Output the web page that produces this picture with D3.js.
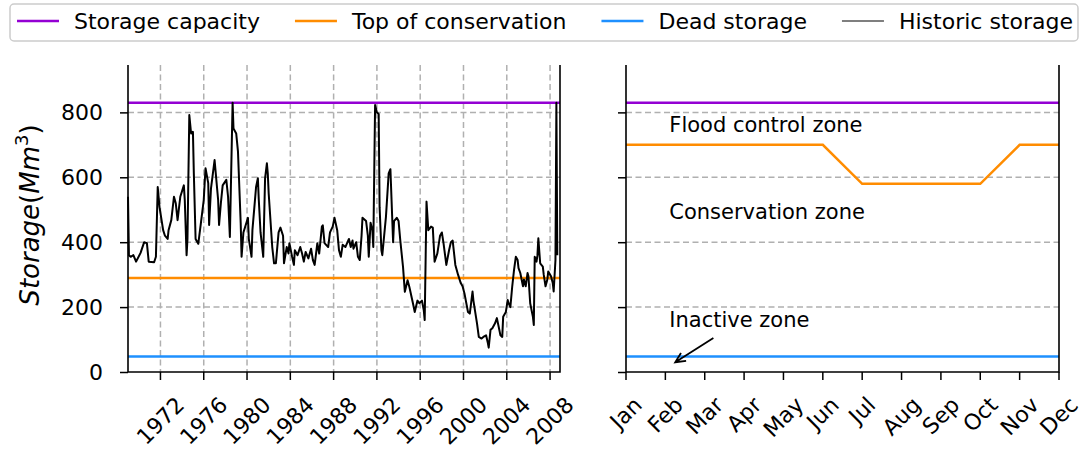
<!DOCTYPE html>
<html>
<head>
<meta charset="utf-8">
<script src="https://cdn.jsdelivr.net/npm/d3@7"></script>
<style>
body { margin: 0; background: #fff; }
text { font-family: "DejaVu Sans", sans-serif; fill: #000; }
</style>
</head>
<body>
<svg id="chart" width="1085" height="457"></svg>
<script>
// historic storage (Mm3)
var histDates = ["1969-01","1969-02","1969-04","1969-07","1969-10","1970-03","1970-07","1970-10","1970-12","1971-06",
    "1971-08","1971-10","1971-12","1972-04","1972-06","1972-09","1972-10","1973-01","1973-04","1973-06",
    "1973-08","1973-11","1974-03","1974-04","1974-06","1974-07","1974-09","1974-11","1975-01","1975-02",
    "1975-04","1975-07","1975-10","1976-01","1976-03","1976-06","1976-07","1976-09","1977-01","1977-05",
    "1977-06","1977-08","1977-10","1978-02","1978-04","1978-06","1978-09","1978-10","1979-01","1979-03",
    "1979-06","1979-07","1979-09","1980-02","1980-03","1980-06","1980-07","1980-11","1981-01","1981-02",
    "1981-04","1981-07","1981-09","1981-11","1981-12","1982-01","1982-05","1982-07","1982-09","1982-12",
    "1983-02","1983-05","1983-06","1983-09","1983-11","1983-12","1984-03","1984-05","1984-06","1984-09",
    "1984-12","1985-02","1985-04","1985-06","1985-09","1985-12","1986-02","1986-04","1986-07","1986-09",
    "1986-12","1987-01","1987-03","1987-07","1987-09","1987-12","1988-02","1988-05","1988-07","1988-09",
    "1988-11","1989-02","1989-06","1989-08","1989-10","1989-11","1990-02","1990-04","1990-06","1990-08",
    "1990-09","1991-01","1991-03","1991-04","1991-06","1991-08","1991-09","1991-11","1992-01","1992-03",
    "1992-04","1992-06","1992-07","1992-11","1993-02","1993-04","1993-07","1993-08","1993-11","1994-01",
    "1994-03","1994-06","1994-08","1994-11","1995-01","1995-05","1995-07","1995-10","1995-12","1996-03",
    "1996-05","1996-06","1996-08","1996-10","1997-01","1997-03","1997-05","1997-08","1997-11","1998-01",
    "1998-03","1998-06","1998-09","1998-11","1999-01","1999-04","1999-07","1999-10","1999-12","2000-02",
    "2000-06","2000-08","2000-11","2000-12","2001-04","2001-06","2001-09","2001-11","2002-02","2002-04",
    "2002-05","2002-07","2002-09","2002-12","2003-02","2003-04","2003-06","2003-08","2003-09","2003-12",
    "2004-02","2004-03","2004-05","2004-07","2004-09","2004-11","2005-01","2005-02","2005-04","2005-07",
    "2005-08","2005-10","2005-12","2006-01","2006-03","2006-06","2006-07","2006-08","2006-10","2006-11",
    "2006-12","2007-02","2007-05","2007-06","2007-08","2007-10","2007-11","2008-02","2008-04","2008-05",
    "2008-07","2008-08","2008-09"];
var histValues = [540,360,355,360,340,367,400,397,340,338,
    355,570,508,437,420,410,437,468,540,520,
    468,540,575,530,360,410,792,735,740,612,
    410,395,462,530,628,582,453,565,653,530,
    453,520,575,592,540,416,830,750,735,680,
    459,355,430,475,410,355,437,570,597,530,
    430,355,597,643,612,550,385,335,335,430,
    445,420,335,385,365,397,355,330,375,360,
    385,365,340,370,350,380,345,330,397,365,
    448,452,397,385,430,448,475,437,375,355,
    392,385,410,385,405,380,400,355,345,420,
    475,465,420,355,460,437,385,823,800,795,
    508,375,360,478,612,625,400,465,475,465,
    405,323,247,283,262,212,185,220,212,220,
    190,160,525,437,448,445,340,365,420,430,
    395,330,375,400,405,330,300,274,264,243,
    185,180,248,220,150,108,103,108,113,90,
    75,130,135,150,166,140,113,108,170,185,
    222,212,200,262,314,355,345,320,305,264,
    285,264,305,295,212,170,145,355,340,360,
    412,335,325,300,264,285,310,295,274,248,
    345,830,360];

var storageCapacity = 830;
var deadStorage = 48;
var conservationTop = 290;

var months = ["Jan","Feb","Mar","Apr","May","Jun","Jul","Aug","Sep","Oct","Nov","Dec"];
var ruleCurve = [700,700,700,700,700,700,580,580,580,580,700,700];

var yTicks = [0, 200, 400, 600, 800];
var yearTicks = [1972, 1976, 1980, 1984, 1988, 1992, 1996, 2000, 2004, 2008];

var zoneLabels = ["Flood control zone", "Conservation zone", "Inactive zone"];
var zoneLabelValues = [740, 470, 140];

var legendLabels = ["Storage capacity", "Top of conservation", "Dead storage", "Historic storage"];
var legendColors = ["#9400d3", "#ff8c00", "#1e90ff", "#555555"];

var svg = d3.select("#chart");
var fs = 22;
var plotTop = 65, plotBottom = 372;
var tickLen = 8;

var parseMonth = d3.timeParse("%Y-%m");
var hist = histDates.map(function(d, i) { return {date: parseMonth(d), value: histValues[i]}; });

var y = d3.scaleLinear().domain([0, 946]).range([plotBottom, plotTop]);
var xL = d3.scaleTime().domain([new Date(1969, 0, 1), new Date(2008, 11, 1)]).range([128, 560]);
var xR = d3.scaleLinear().domain([0, 11]).range([626, 1059]);

function grid(g, x0, x1, vertical) {
    g.selectAll("line.h").data(yTicks.slice(1)).enter().append("line")
        .attr("x1", x0).attr("x2", x1)
        .attr("y1", function(d) { return y(d); }).attr("y2", function(d) { return y(d); });
    if (vertical) {
        g.selectAll("line.v").data(vertical).enter().append("line")
            .attr("x1", function(d) { return xL(new Date(d, 0, 1)); })
            .attr("x2", function(d) { return xL(new Date(d, 0, 1)); })
            .attr("y1", plotTop).attr("y2", plotBottom);
    }
    g.selectAll("line").attr("stroke", "#b0b0b0").attr("stroke-width", 1.5).attr("stroke-dasharray", "6,3.5");
}

function hline(x0, x1, v, color) {
    svg.append("line").attr("x1", x0).attr("x2", x1)
        .attr("y1", y(v)).attr("y2", y(v))
        .attr("stroke", color).attr("stroke-width", 2.5);
}

function spines(x0, x1) {
    svg.append("path")
        .attr("d", "M" + x0 + "," + plotTop + "V" + plotBottom + "H" + x1 + "V" + plotTop)
        .attr("fill", "none").attr("stroke", "#000").attr("stroke-width", 1.6);
}

function rotatedLabels(g, data, xpos, fmt) {
    var labelTop = plotBottom + tickLen + 12;
    data.forEach(function(d) {
        var t = g.append("text").text(fmt(d))
            .attr("font-size", fs)
            .attr("text-anchor", "middle")
            .attr("dominant-baseline", "central");
        var w = t.node().getComputedTextLength();
        var h = 1.164 * fs;
        var half = (w + h) / Math.SQRT2 / 2;
        t.attr("transform", "translate(" + xpos(d) + "," + (labelTop + half) + ") rotate(-45)");
    });
}

// ---- left panel ----
grid(svg.append("g"), 128, 560, yearTicks);
hline(128, 560, storageCapacity, legendColors[0]);
hline(128, 560, conservationTop, legendColors[1]);
hline(128, 560, deadStorage, legendColors[2]);

var line = d3.line().x(function(d) { return xL(d.date); }).y(function(d) { return y(d.value); });
svg.append("path").datum(hist).attr("d", line)
    .attr("fill", "none").attr("stroke", "#000").attr("stroke-width", 2).attr("stroke-linejoin", "round");

spines(128, 560);

var yAxisL = svg.append("g").attr("transform", "translate(128,0)")
    .call(d3.axisLeft(y).tickValues(yTicks).tickSize(tickLen).tickPadding(17));
yAxisL.select(".domain").remove();
yAxisL.selectAll("line").attr("stroke-width", 1.5);
yAxisL.selectAll("text").attr("font-size", fs).attr("font-family", "DejaVu Sans");

var xAxisL = svg.append("g").attr("transform", "translate(0," + plotBottom + ")");
xAxisL.selectAll("line").data(yearTicks).enter().append("line")
    .attr("x1", function(d) { return xL(new Date(d, 0, 1)); })
    .attr("x2", function(d) { return xL(new Date(d, 0, 1)); })
    .attr("y1", 0).attr("y2", tickLen).attr("stroke", "#000").attr("stroke-width", 1.5);
rotatedLabels(svg, yearTicks, function(d) { return xL(new Date(d, 0, 1)); }, String);

var ylab = svg.append("text")
    .attr("transform", "translate(39,215) rotate(-90)")
    .attr("text-anchor", "middle")
    .attr("font-size", 26);
ylab.append("tspan").attr("font-style", "italic").text("Storage");
ylab.append("tspan").text("(");
ylab.append("tspan").attr("font-style", "italic").text("Mm");
ylab.append("tspan").attr("font-size", 18).attr("dy", -11).text("3");
ylab.append("tspan").attr("dy", 11).text(")");

// ---- right panel ----
grid(svg.append("g"), 626, 1059, null);
hline(626, 1059, storageCapacity, legendColors[0]);
hline(626, 1059, deadStorage, legendColors[2]);
svg.append("path").datum(ruleCurve)
    .attr("d", d3.line().x(function(d, i) { return xR(i); }).y(function(d) { return y(d); }))
    .attr("fill", "none").attr("stroke", legendColors[1]).attr("stroke-width", 2.5);

spines(626, 1059);

var yAxisR = svg.append("g").attr("transform", "translate(626,0)")
    .call(d3.axisLeft(y).tickValues(yTicks).tickSize(tickLen).tickFormat(""));
yAxisR.select(".domain").remove();
yAxisR.selectAll("line").attr("stroke-width", 1.5);

var xAxisR = svg.append("g").attr("transform", "translate(0," + plotBottom + ")");
xAxisR.selectAll("line").data(months).enter().append("line")
    .attr("x1", function(d, i) { return xR(i); }).attr("x2", function(d, i) { return xR(i); })
    .attr("y1", 0).attr("y2", tickLen).attr("stroke", "#000").attr("stroke-width", 1.5);
rotatedLabels(svg, d3.range(months.length), xR, function(i) { return months[i]; });

svg.selectAll("text.zone").data(zoneLabels).enter().append("text")
    .attr("class", "zone")
    .attr("x", xR(1.1))
    .attr("y", function(d, i) { return y(zoneLabelValues[i]); })
    .attr("font-size", 21)
    .text(function(d) { return d; });

// arrow pointing at the dead storage line
var ax0 = xR(2.22), ay0 = y(105), ax1 = xR(1.25), ay1 = y(30);
var ang = Math.atan2(ay1 - ay0, ax1 - ax0);
svg.append("path")
    .attr("d", "M" + ax0 + "," + ay0 + "L" + ax1 + "," + ay1 +
        "M" + (ax1 - 11 * Math.cos(ang - 0.45)) + "," + (ay1 - 11 * Math.sin(ang - 0.45)) +
        "L" + ax1 + "," + ay1 +
        "L" + (ax1 - 11 * Math.cos(ang + 0.45)) + "," + (ay1 - 11 * Math.sin(ang + 0.45)))
    .attr("fill", "none").attr("stroke", "#000").attr("stroke-width", 1.8);

// ---- legend ----
var lfs = 22, handleLen = 42, handlePad = 15, colSpace = 35;
var leg = svg.append("g");
var box = leg.append("rect").attr("x", 10).attr("y", 4).attr("height", 37).attr("rx", 4)
    .attr("fill", "#fff").attr("stroke", "#cccccc").attr("stroke-width", 1.5);
var lx = 17;
legendLabels.forEach(function(d, i) {
    leg.append("line").attr("x1", lx).attr("x2", lx + handleLen).attr("y1", 21).attr("y2", 21)
        .attr("stroke", legendColors[i]).attr("stroke-width", i === 3 ? 1.5 : 2.5);
    var t = leg.append("text").attr("x", lx + handleLen + handlePad).attr("y", 29)
        .attr("font-size", lfs).text(d);
    lx += handleLen + handlePad + t.node().getComputedTextLength() + colSpace;
});
box.attr("width", Math.min(lx - colSpace + 5, 1082) - 10);
</script>
</body>
</html>
